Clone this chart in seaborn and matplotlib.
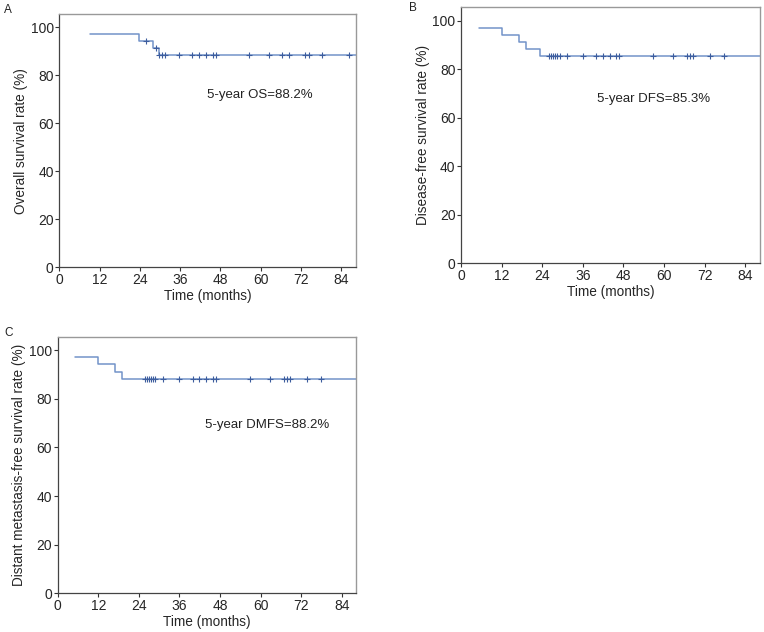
import numpy as np
import pandas as pd
import matplotlib
matplotlib.use('Agg')
import matplotlib.pyplot as plt
import seaborn as sns

# Kaplan-Meier step data (months, %)
os_times = [9.1, 23.7, 27.9, 29.6, 88.5]
os_surv = [97.1, 94.1, 91.2, 88.2, 88.2]
os_censor = [25.8, 28.9, 29.8, 30.6, 31.5, 35.8, 39.5, 41.7, 43.7, 45.9, 46.7,
             56.5, 62.5, 66.4, 68.4, 73.1, 74.3, 78.3, 86.2]

dfs_times = [5.3, 12.2, 17.0, 19.1, 23.3, 88.5]
dfs_surv = [97.1, 94.1, 91.2, 88.2, 85.3, 85.3]
dfs_censor = [26.1, 26.6, 27.2, 27.9, 28.5, 29.2, 31.2, 36.1, 40.0, 42.0, 43.9,
              45.9, 46.7, 56.9, 62.8, 66.8, 67.7, 68.7, 73.7, 77.7]

dmfs_times = [5.0, 11.8, 16.8, 19.1, 88.5]
dmfs_surv = [97.1, 94.1, 91.2, 88.2, 88.2]
dmfs_censor = [25.7, 26.4, 27.1, 27.6, 28.1, 28.8, 31.0, 35.9, 39.9, 41.9, 43.9,
               45.8, 46.8, 56.9, 62.8, 66.8, 67.8, 68.8, 73.7, 77.8]

x_ticks = [0, 12, 24, 36, 48, 60, 72, 84]
y_ticks = [0, 20, 40, 60, 80, 100]

sns.set_style('white')
plt.rcParams['font.family'] = ['Liberation Sans', 'DejaVu Sans']

LINE = '#7393c9'
MARK = '#3d5d9e'

W, H = 764, 632
fig = plt.figure(figsize=(W / 100, H / 100), dpi=100)

panels = [
    ('A', [0.0776, 0.577, 0.388, 0.401], os_times, os_surv, os_censor,
     'Overall survival rate (%)', '5-year OS=88.2%', (44.0, 71.7), (4, 4)),
    ('B', [0.6034, 0.5834, 0.391, 0.405], dfs_times, dfs_surv, dfs_censor,
     'Disease-free survival rate (%)', '5-year DFS=85.3%', (40.1, 67.6), (409, 2)),
    ('C', [0.0755, 0.0612, 0.391, 0.406], dmfs_times, dmfs_surv, dmfs_censor,
     'Distant metastasis-free survival rate (%)', '5-year DMFS=88.2%', (43.6, 69.1), (4, 327)),
]

for letter, pos, times, surv, censor, ylabel, note, note_xy, letter_px in panels:
    ax = fig.add_axes(pos)
    curve = pd.DataFrame({'time': times, 'surv': surv})
    sns.lineplot(data=curve, x='time', y='surv', drawstyle='steps-post',
                 color=LINE, linewidth=1.1, ax=ax)
    # censored observations sit on the step level at their time
    idx = np.searchsorted(np.array(times), np.array(censor), side='right') - 1
    cens = pd.DataFrame({'time': censor, 'surv': np.array(surv)[idx]})
    sns.scatterplot(data=cens, x='time', y='surv', marker='+', s=18,
                    color=MARK, linewidth=0.8, ax=ax, zorder=3)

    ax.set_xlim(0, 88.3)
    ax.set_ylim(0, 105.5)
    ax.set_xticks(x_ticks)
    ax.set_yticks(y_ticks)
    ax.tick_params(axis='both', direction='out', length=3, width=0.8,
                   color='#333333', labelsize=10, pad=1, left=True, bottom=True)
    ax.set_xlabel('Time (months)', fontsize=9.8, labelpad=1.5)
    ax.set_ylabel(ylabel, fontsize=9.8, labelpad=2)
    for side in ['left', 'bottom']:
        ax.spines[side].set_color('#444444')
        ax.spines[side].set_linewidth(0.9)
    for side in ['top', 'right']:
        ax.spines[side].set_color('#999999')
        ax.spines[side].set_linewidth(1.0)

    ax.text(note_xy[0], note_xy[1], note, fontsize=9.5, color='#222222',
            ha='left', va='center')
    fig.text(letter_px[0] / W, 1 - letter_px[1] / H, letter, fontsize=8.5,
             color='#222222', ha='left', va='top')

fig.savefig('out.png', dpi=100, facecolor='white')
